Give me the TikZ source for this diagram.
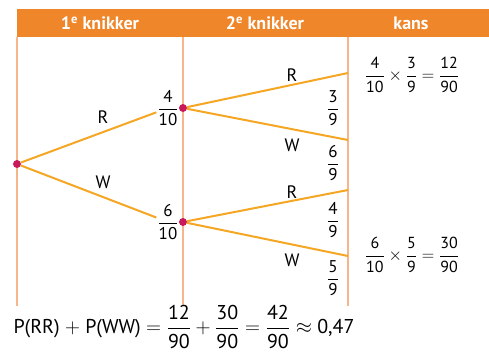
\documentclass[tikz,border=0pt]{standalone}
\usepackage{amsmath,amssymb}
\usepackage{xcolor}
\usepackage{fontspec}
\setmainfont{PT Sans}
\usepackage{tikz}

\definecolor{koporanje}{HTML}{F0862A}
\definecolor{takgeel}{HTML}{F5A623}
\definecolor{lijnoranje}{HTML}{F6B58A}
\definecolor{puntrood}{HTML}{C8195A}
\newcommand{\kfrac}[2]{\dfrac{\text{#1}}{\text{#2}}}

\begin{document}
\begin{tikzpicture}[x=1pt, y=-1pt,
    head/.style={font=\fontsize{18}{20}\selectfont\bfseries, text=white},
    col/.style={lijnoranje, line width=1.2pt},
    tak/.style={takgeel, line width=2pt},
    dot/.style={circle, fill=puntrood, inner sep=0pt, minimum size=8pt},
    kans/.style={font=\fontsize{17}{19}\selectfont, inner sep=1pt},
    lbl/.style={font=\fontsize{18}{20}\selectfont},
    res/.style={font=\fontsize{16}{18}\selectfont}]

    \useasboundingbox (0,0) rectangle (489,356);

    \fill[koporanje] (17,9) rectangle (489,37);
    \node[head] (h1) at (100,23) {1\textsuperscript{e} knikker};
    \node[head] (h2) at (265,23) {2\textsuperscript{e} knikker};
    \node[head] (h3) at (411,23) {kans};

    \draw[col] (17,37) -- (17,306);
    \draw[col] (183,37) -- (183,306);
    \draw[col] (348,37) -- (348,306);

    \node[dot] (root) at (17,164) {};
    \node[dot] (r) at (183,108) {};
    \node[dot] (w) at (183,222) {};

    \node[kans] (pR) at (168,108) {$\kfrac{4}{10}$};
    \node[kans] (pW) at (168,222) {$\kfrac{6}{10}$};
    \node[lbl] (lR) at (103,117) {R};
    \node[lbl] (lW) at (103,182) {W};

    \coordinate (rr) at (348,73);
    \coordinate (rw) at (348,140);
    \coordinate (wr) at (348,190);
    \coordinate (ww) at (348,256);

    \node[lbl] (lRR) at (292,75) {R};
    \node[lbl] (lRW) at (292,145) {W};
    \node[lbl] (lWR) at (292,192) {R};
    \node[lbl] (lWW) at (292,260) {W};
    \node[kans] (pRR) at (333,108) {$\kfrac{3}{9}$};
    \node[kans] (pRW) at (333,163) {$\kfrac{6}{9}$};
    \node[kans] (pWR) at (333,220) {$\kfrac{4}{9}$};
    \node[kans] (pWW) at (333,278) {$\kfrac{5}{9}$};

    \draw[tak] (root) -- (pR);
    \draw[tak] (root) -- (pW);
    \draw[tak] (r) -- (rr);
    \draw[tak] (r) -- (rw);
    \draw[tak] (w) -- (wr);
    \draw[tak] (w) -- (ww);

    \node[res] (kRR) at (412,75) {$\kfrac{4}{10}\times\kfrac{3}{9}=\kfrac{12}{90}$};
    \node[res] (kWW) at (412,255) {$\kfrac{6}{10}\times\kfrac{5}{9}=\kfrac{30}{90}$};

    \node[font=\fontsize{20}{22}\selectfont] (som) at (184,327)
        {P(RR) $+$ P(WW) $=\kfrac{12}{90}+\kfrac{30}{90}=\kfrac{42}{90}\approx$ 0,47};

\end{tikzpicture}
\end{document}
